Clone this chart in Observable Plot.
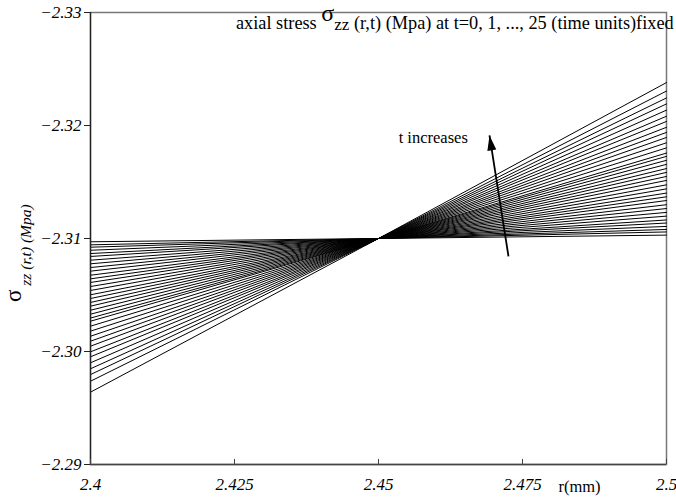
<!DOCTYPE html>
<html>
<head>
<meta charset="utf-8">
<script src="https://cdn.jsdelivr.net/npm/d3@7"></script>
<script src="https://cdn.jsdelivr.net/npm/@observablehq/plot@0.6"></script>
<style>
  html, body { margin: 0; padding: 0; background: white; }
  #chart svg { display: block; }
  #chart svg text { font-family: "Liberation Serif", "Times New Roman", serif; }
</style>
</head>
<body>
<div id="chart"></div>
<script>
// ---- data ----
const rLeft = 2.4, rCenter = 2.45, rRight = 2.5;
const centerValue = -2.31;
// sigma_zz at r = 2.4 for each time curve (top to bottom at left edge)
const leftValues = [
  -2.30971, -2.30944, -2.30923, -2.30896, -2.30867, -2.30841, -2.30808, -2.30776,
  -2.30743, -2.30711, -2.30675, -2.30643, -2.30611, -2.30575, -2.30540, -2.30502,
  -2.30469, -2.30434, -2.30401, -2.30365, -2.30330, -2.30296, -2.30268, -2.30224,
  -2.30180, -2.30135, -2.30091, -2.30047, -2.29997, -2.29953, -2.29900, -2.29847,
  -2.29796, -2.29737, -2.29640
];
// sigma_zz at r = 2.5 for each time curve (same order)
const rightValues = [
  -2.31030, -2.31058, -2.31080, -2.31107, -2.31137, -2.31164, -2.31198, -2.31231,
  -2.31265, -2.31299, -2.31336, -2.31369, -2.31402, -2.31439, -2.31475, -2.31514,
  -2.31549, -2.31585, -2.31619, -2.31656, -2.31692, -2.31727, -2.31756, -2.31802,
  -2.31847, -2.31894, -2.31939, -2.31984, -2.32036, -2.32082, -2.32136, -2.32191,
  -2.32244, -2.32305, -2.32380
];
const xTicks = [2.4, 2.425, 2.45, 2.475, 2.5];
const yTicks = [-2.33, -2.32, -2.31, -2.30, -2.29];
const xAxisLabel = "r(mm)";
const annotation = [{r: 2.4595, s: -2.31894, text: "t increases"}];
const arrowTail = {r: 2.47257, s: -2.30841};
const arrowTip = {r: 2.46927, s: -2.31912};
const titleParts = ["axial stress ", "σ", "zz", " (r,t) (Mpa) at t=0, 1, ..., 25 (time units)fixed"];
const yLabelParts = ["σ", "zz (r,t) (Mpa)"];

// ---- build table ----
const rows = [];
leftValues.forEach((v, k) => {
  rows.push({k, r: rLeft, s: v});
  rows.push({k, r: rCenter, s: centerValue});
  rows.push({k, r: rRight, s: rightValues[k]});
});

const arrowHead = {
  draw(context) {
    context.moveTo(0, 0);
    context.lineTo(-4.5, 15);
    context.lineTo(4.5, 15);
    context.closePath();
  }
};

const serif = "Liberation Serif";

const chart = Plot.plot({
  width: 676,
  height: 497,
  marginLeft: 90,
  marginRight: 10,
  marginTop: 12,
  marginBottom: 33,
  style: {fontFamily: serif, background: "white", color: "black"},
  x: {domain: [2.4, 2.5]},
  y: {domain: [-2.29, -2.33]},
  marks: [
    Plot.frame({stroke: "#777", strokeWidth: 1.5}),
    Plot.line(rows, {x: "r", y: "s", z: "k", stroke: "black", strokeWidth: 1}),
    Plot.ruleX([2.4], {stroke: "#222", strokeWidth: 1.3}),
    Plot.ruleY([-2.29], {stroke: "#444", strokeWidth: 1.3}),
    Plot.ruleX(xTicks, {x: d => d, y1: -2.29, y2: -2.29045, stroke: "#444"}),
    Plot.axisY({ticks: yTicks, tickFormat: d3.format(".2f"), tickSize: 6, tickPadding: 3,
      fontSize: 17, fontStyle: "italic", fontFamily: serif, label: null, stroke: "#222"}),
    Plot.axisX({ticks: xTicks, tickFormat: d => String(d), tickSize: 0, tickPadding: 13,
      fontSize: 17, fontStyle: "italic", fontFamily: serif, label: null}),
    Plot.text([xAxisLabel], {text: d => d, frameAnchor: "bottom-right", dx: -87, dy: 22,
      fontSize: 16.5, fontFamily: serif, textAnchor: "middle", lineAnchor: "middle"}),
    Plot.text(annotation, {x: "r", y: "s", text: "text", fontSize: 16.5, fontFamily: serif, textAnchor: "middle"}),
    Plot.link([{a: arrowTail, b: arrowTip}], {x1: d => d.a.r, y1: d => d.a.s, x2: d => d.b.r, y2: d => d.b.s,
      stroke: "black", strokeWidth: 1.8}),
    Plot.dot([arrowTip], {x: "r", y: "s", symbol: arrowHead, fill: "black", stroke: "none", rotate: -9})
  ]
});

document.getElementById("chart").appendChild(chart);

// rich-text title and y-axis label (mixed sizes / subscripts)
const svg = d3.select(chart);
const title = svg.append("text")
  .attr("x", 236).attr("y", 29).attr("text-anchor", "start")
  .attr("font-family", serif).attr("font-size", 18.3).attr("fill", "black");
title.append("tspan").text(titleParts[0]);
title.append("tspan").attr("font-size", 24).attr("dy", -8).text(titleParts[1]);
title.append("tspan").attr("font-size", 17).attr("dy", 9).text(titleParts[2]);
title.append("tspan").attr("dy", -1).text(titleParts[3]);

const ylab = svg.append("text")
  .attr("transform", "translate(31,302) rotate(-90)").attr("text-anchor", "start")
  .attr("font-family", serif).attr("font-size", 15.5).attr("fill", "black");
ylab.append("tspan").attr("font-size", 23).attr("dy", -10).text(yLabelParts[0]);
ylab.append("tspan").attr("font-style", "italic").attr("dy", 10).text(" " + yLabelParts[1]);
</script>
</body>
</html>
